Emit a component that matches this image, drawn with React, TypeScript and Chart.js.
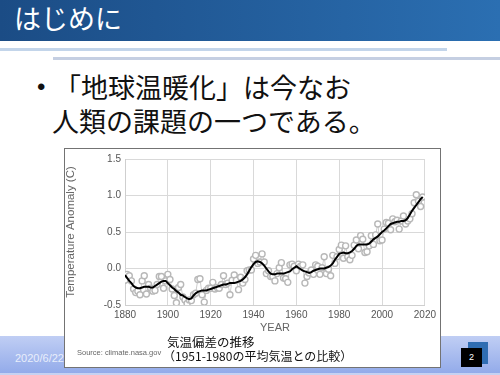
import React, { useEffect, useRef } from "react";
import { Chart, registerables } from "chart.js";

Chart.register(...registerables);

// ---- data ----
const YEARS = [
  1880, 1881, 1882, 1883, 1884, 1885, 1886, 1887, 1888, 1889,
  1890, 1891, 1892, 1893, 1894, 1895, 1896, 1897, 1898, 1899,
  1900, 1901, 1902, 1903, 1904, 1905, 1906, 1907, 1908, 1909,
  1910, 1911, 1912, 1913, 1914, 1915, 1916, 1917, 1918, 1919,
  1920, 1921, 1922, 1923, 1924, 1925, 1926, 1927, 1928, 1929,
  1930, 1931, 1932, 1933, 1934, 1935, 1936, 1937, 1938, 1939,
  1940, 1941, 1942, 1943, 1944, 1945, 1946, 1947, 1948, 1949,
  1950, 1951, 1952, 1953, 1954, 1955, 1956, 1957, 1958, 1959,
  1960, 1961, 1962, 1963, 1964, 1965, 1966, 1967, 1968, 1969,
  1970, 1971, 1972, 1973, 1974, 1975, 1976, 1977, 1978, 1979,
  1980, 1981, 1982, 1983, 1984, 1985, 1986, 1987, 1988, 1989,
  1990, 1991, 1992, 1993, 1994, 1995, 1996, 1997, 1998, 1999,
  2000, 2001, 2002, 2003, 2004, 2005, 2006, 2007, 2008, 2009,
  2010, 2011, 2012, 2013, 2014, 2015, 2016, 2017, 2018, 2019,
];

const ANNUAL_MEAN = [
  -0.16, -0.08, -0.10, -0.17, -0.28, -0.33, -0.31, -0.36, -0.17, -0.10,
  -0.35, -0.22, -0.27, -0.31, -0.30, -0.22, -0.11, -0.11, -0.27, -0.17,
  -0.08, -0.15, -0.28, -0.37, -0.47, -0.26, -0.22, -0.39, -0.43, -0.48,
  -0.43, -0.44, -0.36, -0.34, -0.15, -0.14, -0.36, -0.46, -0.30, -0.27,
  -0.27, -0.19, -0.28, -0.26, -0.27, -0.22, -0.10, -0.22, -0.20, -0.36,
  -0.16, -0.09, -0.16, -0.29, -0.12, -0.20, -0.15, -0.03, -0.02, -0.02,
  0.13, 0.18, 0.07, 0.09, 0.20, 0.09, -0.07, -0.03, -0.11, -0.11,
  -0.17, -0.07, 0.01, 0.08, -0.13, -0.14, -0.19, 0.05, 0.06, 0.03,
  -0.03, 0.06, 0.03, 0.05, -0.20, -0.11, -0.06, -0.02, -0.08, 0.05,
  0.03, -0.08, 0.01, 0.16, -0.07, -0.01, -0.10, 0.18, 0.07, 0.16,
  0.26, 0.32, 0.14, 0.31, 0.16, 0.12, 0.18, 0.32, 0.39, 0.27,
  0.45, 0.40, 0.22, 0.23, 0.31, 0.45, 0.33, 0.46, 0.61, 0.38,
  0.39, 0.54, 0.63, 0.62, 0.53, 0.68, 0.64, 0.66, 0.54, 0.65,
  0.72, 0.61, 0.65, 0.68, 0.75, 0.90, 1.01, 0.92, 0.85, 0.98,
];

const LOWESS = [
  -0.09, -0.13, -0.17, -0.20, -0.24, -0.26, -0.27, -0.27, -0.26, -0.25,
  -0.25, -0.25, -0.26, -0.26, -0.24, -0.22, -0.20, -0.18, -0.17, -0.17,
  -0.20, -0.23, -0.26, -0.28, -0.31, -0.33, -0.36, -0.37, -0.39, -0.41,
  -0.42, -0.41, -0.37, -0.34, -0.32, -0.31, -0.30, -0.30, -0.30, -0.29,
  -0.28, -0.27, -0.26, -0.25, -0.24, -0.23, -0.22, -0.22, -0.21, -0.20,
  -0.20, -0.20, -0.19, -0.18, -0.17, -0.15, -0.12, -0.08, -0.03, 0.02,
  0.06, 0.09, 0.10, 0.09, 0.07, 0.04, 0.00, -0.04, -0.07, -0.08,
  -0.08, -0.07, -0.07, -0.07, -0.07, -0.06, -0.05, -0.04, -0.01, 0.01,
  0.03, 0.01, -0.01, -0.03, -0.04, -0.05, -0.06, -0.05, -0.03, -0.02,
  -0.01, 0.00, 0.00, 0.00, 0.01, 0.02, 0.04, 0.07, 0.12, 0.16,
  0.20, 0.21, 0.22, 0.21, 0.21, 0.22, 0.24, 0.27, 0.31, 0.33,
  0.33, 0.33, 0.33, 0.33, 0.34, 0.37, 0.40, 0.42, 0.44, 0.47,
  0.50, 0.52, 0.55, 0.58, 0.61, 0.62, 0.63, 0.64, 0.64, 0.65,
  0.65, 0.66, 0.69, 0.74, 0.79, 0.83, 0.87, 0.91, 0.95, 0.98,
];

const X_TICKS = [1880, 1900, 1920, 1940, 1960, 1980, 2000, 2020];
const Y_TICKS = [-0.5, 0.0, 0.5, 1.0, 1.5];

const SLIDE_TITLE = "はじめに";
const BULLET_LINES = ["「地球温暖化」は今なお", "人類の課題の一つである。"];
const CAPTION_LINES = ["気温偏差の推移", "（1951-1980の平均気温との比較）"];
const SOURCE_TEXT = "Source: climate.nasa.gov";
const DATE_TEXT = "2020/6/22";
const PAGE_NUM = "2";

const JP = '"Noto Sans CJK JP", "Noto Sans", sans-serif';
const SANS = '"Liberation Sans", Arial, sans-serif';

export default function App() {
  const canvasRef = useRef<HTMLCanvasElement>(null);

  useEffect(() => {
    if (!canvasRef.current) return;
    const tickFont = { family: SANS, size: 10 };
    const titleFont = { family: SANS, size: 11, lineHeight: 1 };
    const chart = new Chart(canvasRef.current, {
      type: "line",
      data: {
        datasets: [
          {
            label: "Lowess Smoothing",
            data: YEARS.map((yr, i) => ({ x: yr, y: LOWESS[i] })),
            borderColor: "#000000",
            borderWidth: 2,
            pointRadius: 0,
            tension: 0,
          },
          {
            label: "Annual Mean",
            data: YEARS.map((yr, i) => ({ x: yr, y: ANNUAL_MEAN[i] })),
            borderColor: "#cccccc",
            borderWidth: 1,
            pointRadius: 3,
            pointBorderWidth: 1.4,
            pointBorderColor: "#b8b8b8",
            pointBackgroundColor: "#ffffff",
            tension: 0,
          },
        ],
      },
      options: {
        animation: false,
        responsive: false,
        maintainAspectRatio: false,
        layout: { padding: { top: 6, right: 11, left: 0, bottom: 0 } },
        plugins: { legend: { display: false }, tooltip: { enabled: false } },
        scales: {
          x: {
            type: "linear",
            min: X_TICKS[0],
            max: X_TICKS[X_TICKS.length - 1],
            afterBuildTicks: (s: any) => {
              s.ticks = X_TICKS.map((v) => ({ value: v }));
            },
            afterFit: (s: any) => {
              s.height = 62;
            },
            grid: { color: "#d9d9d9", drawTicks: false },
            border: { color: "#cfcfcf" },
            ticks: {
              padding: 4,
              color: "#555555",
              font: tickFont,
              maxRotation: 0,
              autoSkip: false,
              callback: (v: any) => String(v),
            },
            title: {
              display: true,
              text: "YEAR",
              color: "#666666",
              font: titleFont,
              padding: { top: 0, bottom: 34 },
            },
          },
          y: {
            min: Y_TICKS[0],
            max: Y_TICKS[Y_TICKS.length - 1],
            afterBuildTicks: (s: any) => {
              s.ticks = Y_TICKS.map((v) => ({ value: v }));
            },
            afterFit: (s: any) => {
              s.width = 60;
            },
            grid: { color: "#d9d9d9", drawTicks: false },
            border: { color: "#cfcfcf" },
            ticks: {
              padding: 4,
              color: "#555555",
              font: tickFont,
              callback: (v: any) => Number(v).toFixed(1),
            },
            title: {
              display: true,
              text: "Temperature Anomaly (C)",
              color: "#666666",
              font: { family: SANS, size: 11.5, lineHeight: 1 },
              padding: { top: 0, bottom: 0 },
            },
          },
        },
      },
    } as any);
    return () => chart.destroy();
  }, []);

  const abs = (s: React.CSSProperties): React.CSSProperties => ({ position: "absolute", ...s });

  return (
    <div
      style={abs({
        left: 0,
        top: 0,
        width: 500,
        height: 375,
        overflow: "hidden",
        background: "#ffffff",
        fontFamily: JP,
      })}
    >
      {/* title bar */}
      <div
        style={abs({
          left: 0,
          top: 0,
          width: 500,
          height: 41,
          background: "linear-gradient(to right, #1b4c85, #2b6fb2)",
        })}
      />
      <div
        style={abs({
          left: 14,
          top: -2,
          height: 40,
          lineHeight: "40px",
          fontSize: 27,
          color: "#ffffff",
          whiteSpace: "nowrap",
        })}
      >
        {SLIDE_TITLE}
      </div>
      {/* decorative lines */}
      <div style={abs({ left: 0, top: 48, width: 447, height: 3, background: "#c3d5ea" })} />
      <div style={abs({ left: 53, top: 57, width: 447, height: 3, background: "#c5cfe2" })} />

      {/* bullet text */}
      <div style={abs({ left: 37, top: 70, lineHeight: "34px", fontSize: 24, fontFamily: SANS, color: "#111" })}>•</div>
      <div
        style={abs({
          left: 54,
          top: 70,
          lineHeight: "34px",
          fontSize: 27,
          color: "#111111",
          whiteSpace: "nowrap",
        })}
      >
        {BULLET_LINES[0]}
      </div>
      <div
        style={abs({
          left: 52,
          top: 104,
          lineHeight: "34px",
          fontSize: 27,
          color: "#111111",
          whiteSpace: "nowrap",
        })}
      >
        {BULLET_LINES[1]}
      </div>

      {/* footer band */}
      <div
        style={abs({
          left: 0,
          top: 336,
          width: 500,
          height: 37,
          background: "linear-gradient(to bottom, #c0cef4, #93abea)",
        })}
      />
      <div style={abs({ left: 0, top: 373, width: 500, height: 2, background: "#c6d2f2" })} />
      <div
        style={abs({
          left: 15,
          top: 350,
          lineHeight: "16px",
          fontSize: 11,
          fontFamily: SANS,
          color: "#e8eefb",
          whiteSpace: "nowrap",
        })}
      >
        {DATE_TEXT}
      </div>
      <div style={abs({ left: 468, top: 342, width: 20, height: 22, background: "#2f6db2" })} />
      <div
        style={abs({
          left: 461,
          top: 348,
          width: 21,
          height: 19,
          background: "#000000",
          color: "#ffffff",
          fontSize: 9,
          fontFamily: SANS,
          lineHeight: "19px",
          textAlign: "center",
        })}
      >
        {PAGE_NUM}
      </div>

      {/* chart image box */}
      <div
        style={abs({
          left: 64,
          top: 148,
          width: 375,
          height: 218,
          border: "1px solid #737373",
          background: "#ffffff",
        })}
      >
        <canvas ref={canvasRef} width={375} height={218} style={{ display: "block" }} />
      </div>
      <div
        style={abs({
          left: 77,
          top: 347,
          lineHeight: "12px",
          fontSize: 7.5,
          fontFamily: SANS,
          color: "#666666",
          whiteSpace: "nowrap",
        })}
      >
        {SOURCE_TEXT}
      </div>
      <div
        style={abs({
          left: 167,
          top: 335,
          lineHeight: "14px",
          fontSize: 12.5,
          color: "#111111",
          whiteSpace: "nowrap",
        })}
      >
        {CAPTION_LINES[0]}
      </div>
      <div
        style={abs({
          left: 163,
          top: 349,
          lineHeight: "14px",
          fontSize: 12,
          color: "#111111",
          whiteSpace: "nowrap",
        })}
      >
        {CAPTION_LINES[1]}
      </div>
    </div>
  );
}
